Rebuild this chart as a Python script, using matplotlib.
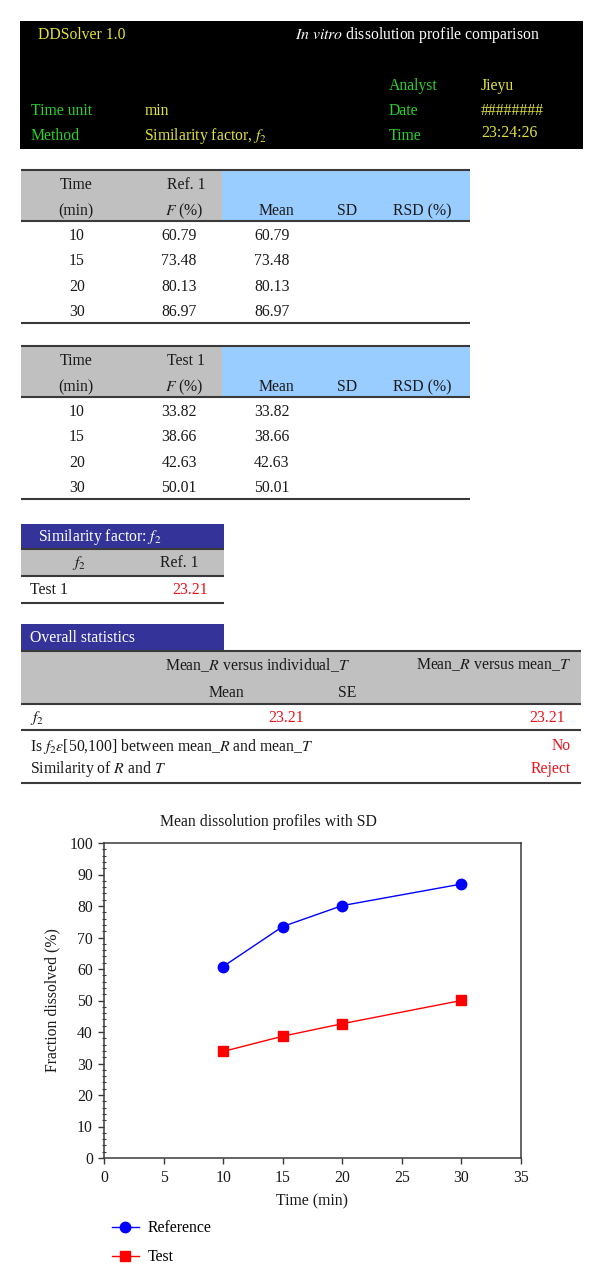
import matplotlib
matplotlib.use('Agg')
import matplotlib.pyplot as plt
from matplotlib.patches import Rectangle
from matplotlib.ticker import MultipleLocator

# ---------------- data ----------------
time_min = [10, 15, 20, 30]
ref_values = [60.79, 73.48, 80.13, 86.97]
test_values = [33.82, 38.66, 42.63, 50.01]
f2_value = 23.21
x_ticks = [0, 5, 10, 15, 20, 25, 30, 35]
y_ticks = [0, 10, 20, 30, 40, 50, 60, 70, 80, 90, 100]
series_labels = ['Reference', 'Test']

plt.rcParams['font.family'] = ['Liberation Serif', 'DejaVu Serif']
plt.rcParams['mathtext.fontset'] = 'stix'

FS = 11.3
YEL = '#e2e23a'
GRN = '#2fcf2f'
RED = '#e8141c'
GRAY = '#c0c0c0'
LBLUE = '#99ccff'
DBLUE = '#333399'
TXT = '#1a1a1a'
LINE = '#3a3a3a'

fig = plt.figure(figsize=(6, 12.85), dpi=100)
ov = fig.add_axes([0, 0, 1, 1])
ov.set_xlim(0, 600)
ov.set_ylim(1285, 0)
ov.axis('off')


def T(x, y, s, color=TXT, ha='left', size=FS):
    ov.text(x, y, s, color=color, ha=ha, va='center', fontsize=size)


def H(y, x0, x1, lw=1.5, color=LINE):
    ov.plot([x0, x1], [y, y], color=color, lw=lw, solid_capstyle='butt')


# ---------------- header ----------------
ov.add_patch(Rectangle((20, 21), 563, 128, fc='black', ec='none'))
T(38, 35, 'DDSolver 1.0', YEL)
T(295, 35, r'$\mathit{In\ vitro}$ dissolution profile comparison', 'white')
T(389, 86, 'Analyst', GRN)
T(481, 86, 'Jieyu', YEL)
T(31, 111, 'Time unit', GRN)
T(145, 111, 'min', YEL)
T(389, 111, 'Date', GRN)
T(481, 111, '########', YEL)
T(31, 136, 'Method', GRN)
T(144, 136, r'Similarity factor, $f_2$', YEL)
T(389, 136, 'Time', GRN)
T(481, 133, '23:24:26', YEL)


# ---------------- data tables ----------------
def data_table(y0, label, values):
    ov.add_patch(Rectangle((21, y0), 201, 51, fc=GRAY, ec='none'))
    ov.add_patch(Rectangle((222, y0), 248, 51, fc=LBLUE, ec='none'))
    H(y0, 21, 470)
    H(y0 + 51, 21, 470)
    H(y0 + 153, 21, 470)
    T(76, y0 + 15, 'Time', ha='center')
    T(76, y0 + 41, '(min)', ha='center')
    T(186, y0 + 15, label, ha='center')
    T(184, y0 + 41, r'$F$ (%)', ha='center')
    T(276, y0 + 41, 'Mean', ha='center')
    T(347, y0 + 41, 'SD', ha='center')
    T(422, y0 + 41, 'RSD (%)', ha='center')
    for i, (t, v) in enumerate(zip(time_min, values)):
        yy = y0 + 66 + i * 25.3
        T(77, yy, str(t), ha='center')
        T(179, yy, f'{v:.2f}', ha='center')
        T(272, yy, f'{v:.2f}', ha='center')


data_table(170, 'Ref. 1', ref_values)
data_table(346, 'Test 1', test_values)

# ---------------- similarity factor table ----------------
ov.add_patch(Rectangle((21, 524), 203, 25, fc=DBLUE, ec='none'))
T(38, 537, r'Similarity factor: $f_2$', 'white')
ov.add_patch(Rectangle((21, 549), 203, 27, fc=GRAY, ec='none'))
H(549, 21, 224)
H(576, 21, 224)
T(79, 563, r'$f_2$', ha='center')
T(179, 563, 'Ref. 1', ha='center')
T(30, 590, 'Test 1')
T(208, 590, f'{f2_value:.2f}', RED, ha='right')
H(603, 21, 224)

# ---------------- overall statistics ----------------
ov.add_patch(Rectangle((21, 624), 203, 27, fc=DBLUE, ec='none'))
T(30, 638, 'Overall statistics', 'white')
ov.add_patch(Rectangle((21, 651), 560, 53, fc=GRAY, ec='none'))
H(651, 21, 581)
T(258, 665, r'Mean_$R$ versus individual_$T$', ha='center')
T(494, 665, r'Mean_$R$ versus mean_$T$', ha='center')
T(226, 693, 'Mean', ha='center')
T(347, 693, 'SE', ha='center')
H(704, 21, 581)
T(30, 718, r'$f_2$')
T(304, 718, f'{f2_value:.2f}', RED, ha='right')
T(565, 718, f'{f2_value:.2f}', RED, ha='right')
H(730, 21, 581)
T(30, 746, r'Is $f_2\epsilon$[50,100] between mean_$R$ and mean_$T$')
T(571, 746, 'No', RED, ha='right')
T(30, 769, r'Similarity of $R$ and $T$')
T(571, 769, 'Reject', RED, ha='right')
H(783, 21, 581)

# ---------------- chart ----------------
W, Hh = 600.0, 1285.0
ax = fig.add_axes([104 / W, 1 - 1158 / Hh, (521 - 104) / W, (1158 - 843) / Hh])
l1, = ax.plot(time_min, ref_values, color='#0000ff', lw=1.0, marker='o', ms=7.5,
              markeredgecolor='#0000ff', markerfacecolor='#0000ff', label=series_labels[0])
l2, = ax.plot(time_min, test_values, color='#ff0000', lw=1.0, marker='s', ms=7.5,
              markeredgecolor='#ff0000', markerfacecolor='#ff0000', label=series_labels[1])
ax.set_xlim(0, 35)
ax.set_ylim(0, 100)
ax.set_xticks(x_ticks)
ax.set_yticks(y_ticks)
ax.yaxis.set_minor_locator(MultipleLocator(2))
ax.tick_params(axis='both', which='major', direction='out', length=4, width=1,
               labelsize=FS, colors=LINE, labelcolor=TXT)
ax.tick_params(axis='y', which='major', pad=4)
ax.tick_params(axis='x', which='major', pad=5)
ax.tick_params(axis='y', which='minor', direction='inout', length=3, width=0.8, colors=LINE)
ax.tick_params(top=False, right=False)
for sp in ax.spines.values():
    sp.set_color(LINE)
    sp.set_linewidth(1.1)
ax.set_xlabel('Time (min)', fontsize=FS, color=TXT, labelpad=5)
ax.set_ylabel('Fraction dissolved (%)', fontsize=FS, color=TXT, labelpad=6)
ax.set_title('Mean dissolution profiles with SD', fontsize=FS, color=TXT,
             x=(268 - 104) / (521 - 104), pad=12)

fig.legend(handles=[l1, l2], loc='upper left',
           bbox_to_anchor=(112 / W, 1 - 1220 / Hh), frameon=False,
           fontsize=FS, handlelength=1.7, handletextpad=0.55,
           labelspacing=0.85, borderpad=0, borderaxespad=0)

fig.savefig('out.png', dpi=100)
